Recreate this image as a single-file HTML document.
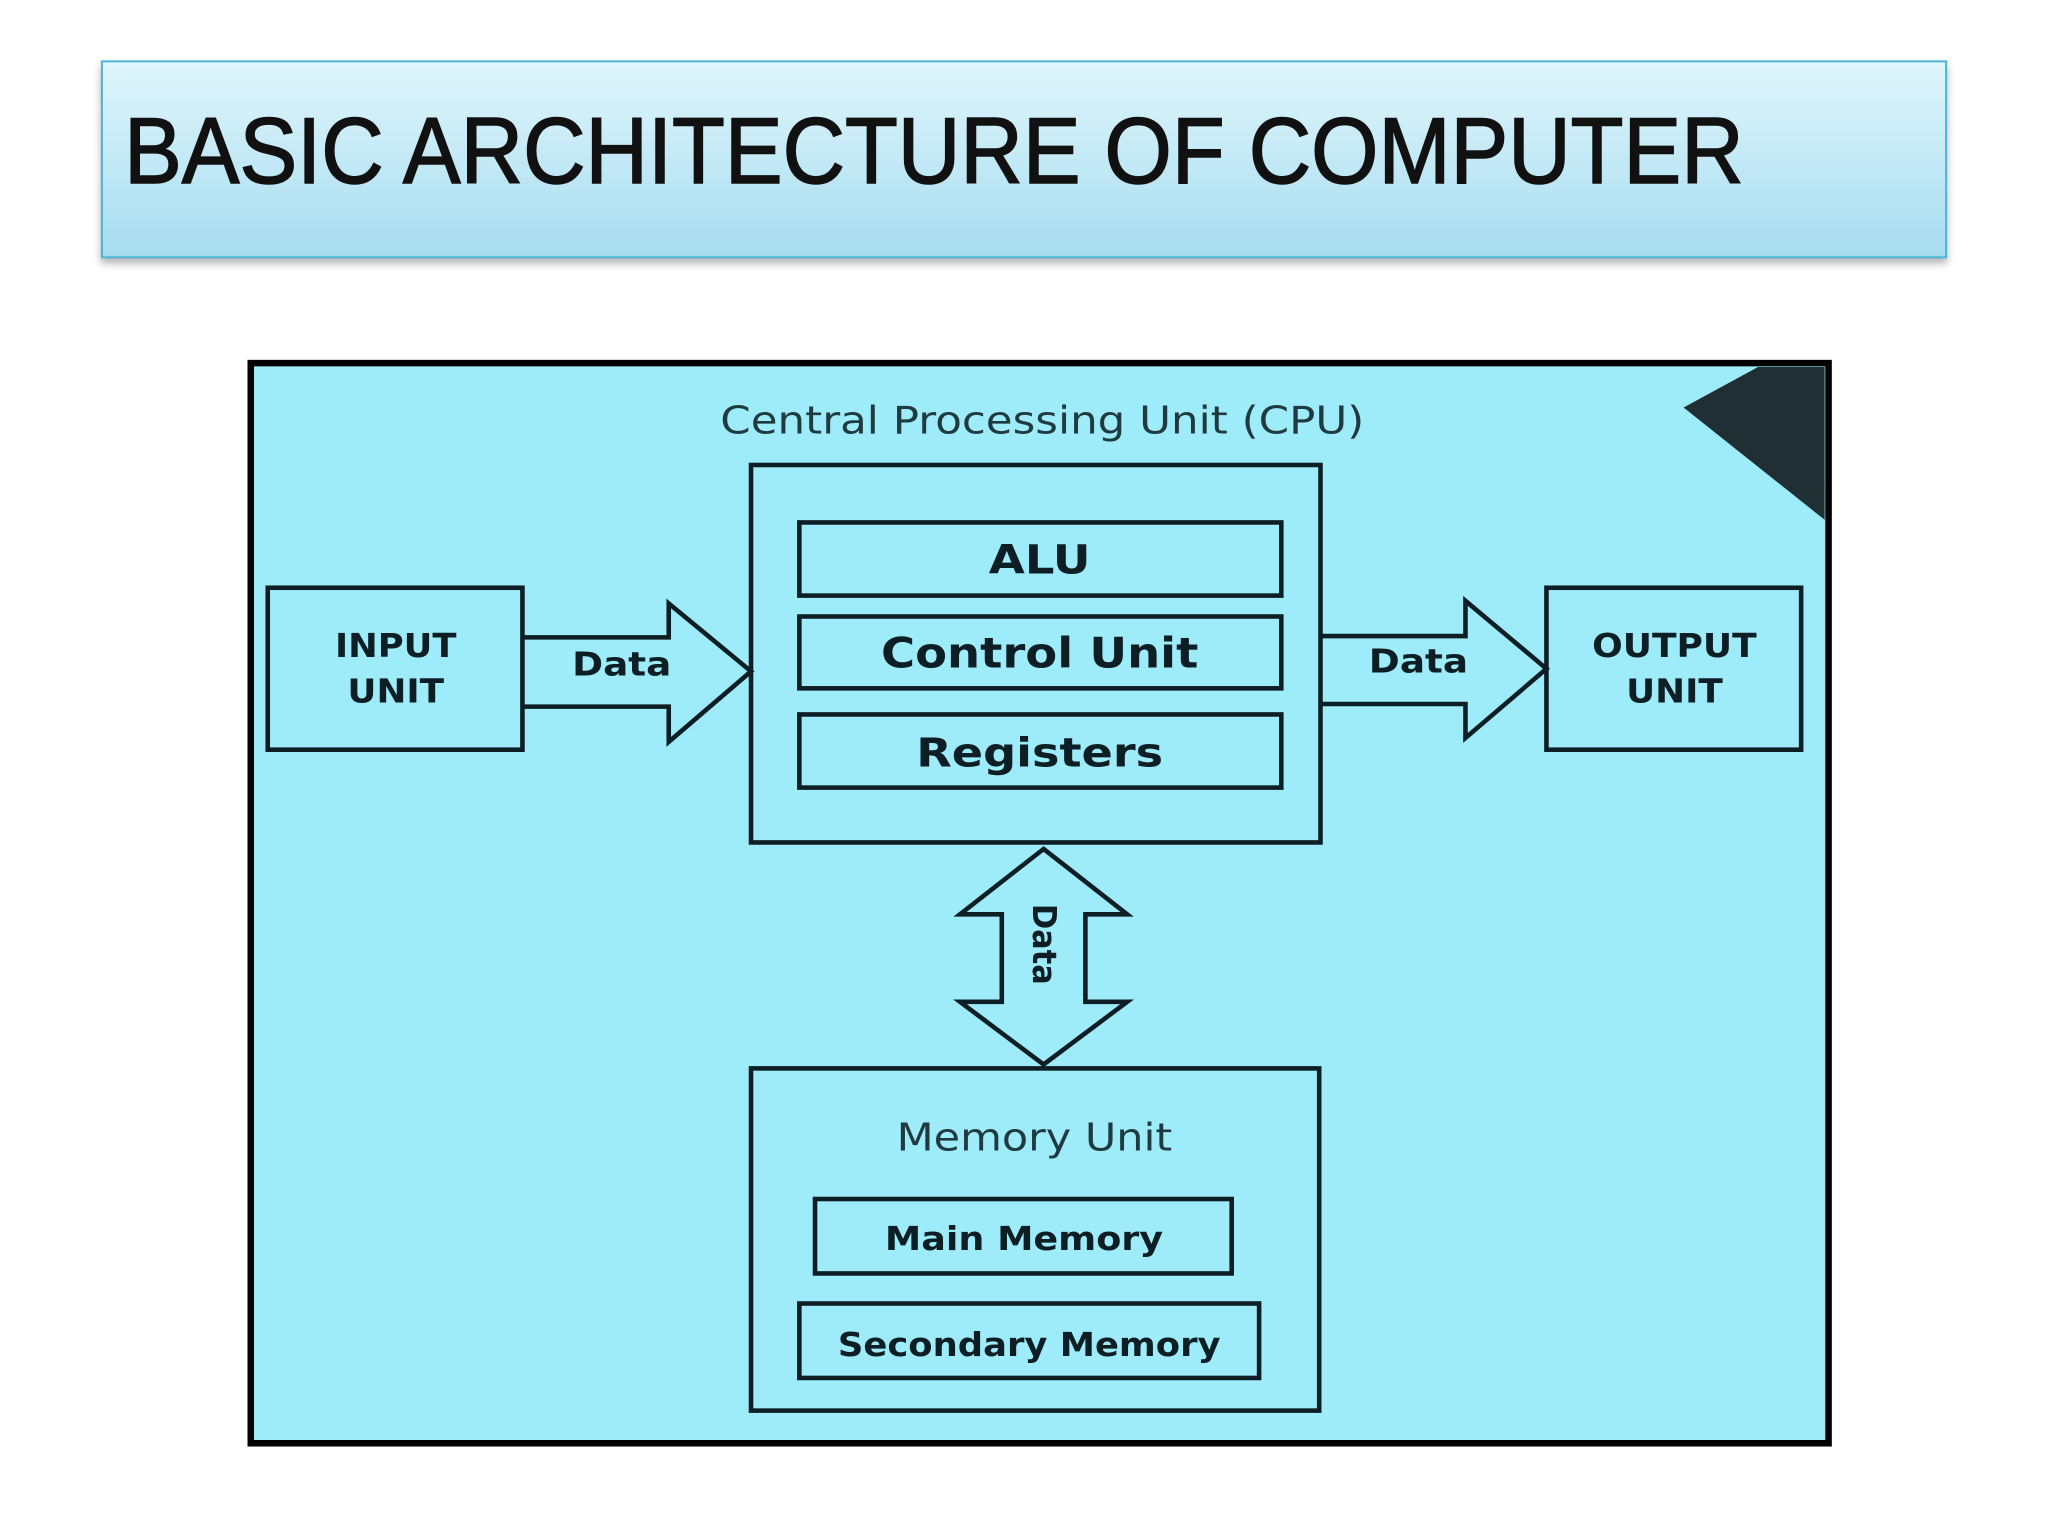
<!DOCTYPE html>
<html><head><meta charset="utf-8"><style>html,body{margin:0;padding:0;background:#fff}svg{display:block}</style></head>
<body>
<svg xmlns="http://www.w3.org/2000/svg" width="2048" height="1536" viewBox="0 0 1568 1176">
<defs>
<linearGradient id="tg" x1="0" y1="0" x2="0" y2="1">
<stop offset="0" stop-color="#e0f6fc"/><stop offset="1" stop-color="#a6dcef"/>
</linearGradient>
<filter id="sh" x="-5%" y="-20%" width="110%" height="150%"><feDropShadow dx="0" dy="4" stdDeviation="3" flood-color="#000" flood-opacity="0.3"/></filter>
</defs>
<rect width="1568" height="1176" fill="#fff"/>
<rect x="78" y="47" width="1412" height="150" fill="url(#tg)" stroke="#4ab3d3" stroke-width="1.5" filter="url(#sh)"/>
<text x="95" y="140" font-family="Liberation Sans, sans-serif" font-size="72" fill="#111" stroke="#111" stroke-width="1.2" textLength="1240" lengthAdjust="spacingAndGlyphs">BASIC ARCHITECTURE OF COMPUTER</text>

<rect x="192" y="278" width="1208" height="827" fill="#9eebf9" stroke="#000" stroke-width="5"/>
<polygon points="1289,312 1346,281 1397,281 1397,398" fill="#1f2f33"/>

<g font-family="DejaVu Sans, sans-serif" fill="#0d1f24" text-anchor="middle" lengthAdjust="spacingAndGlyphs">
<text x="798" y="332" font-size="29" fill="#1f3b40" textLength="493" lengthAdjust="spacingAndGlyphs">Central Processing Unit (CPU)</text>
<g fill="none" stroke="#0d1f24" stroke-width="3.5">
<rect x="575" y="356" width="436" height="289"/>
<rect x="612" y="400" width="369" height="56"/>
<rect x="612" y="472" width="369" height="55"/>
<rect x="612" y="547" width="369" height="56"/>
<rect x="205" y="450" width="195" height="124"/>
<rect x="1184" y="450" width="195" height="124"/>
<rect x="575" y="818" width="435" height="262"/>
<rect x="624" y="918" width="319" height="57"/>
<rect x="612" y="998" width="352" height="57"/>
<polyline points="400,488 512,488 512,462 575,514 512,568 512,541 400,541" />
<polyline points="1011,487 1122,487 1122,460 1184,512 1122,565 1122,539 1011,539"/>
<polygon points="799,650 863,700 831,700 831,767 863,767 799,815 735,767 767,767 767,700 735,700"/>
</g>
<g font-weight="bold">
<text x="796" y="439" font-size="31" textLength="78" lengthAdjust="spacingAndGlyphs">ALU</text>
<text x="796" y="511" font-size="32" textLength="243" lengthAdjust="spacingAndGlyphs">Control Unit</text>
<text x="796" y="587" font-size="31" textLength="189" lengthAdjust="spacingAndGlyphs">Registers</text>
<text x="303" y="503" font-size="25" textLength="93" lengthAdjust="spacingAndGlyphs">INPUT</text>
<text x="303" y="538" font-size="25" textLength="74" lengthAdjust="spacingAndGlyphs">UNIT</text>
<text x="1282" y="503" font-size="25" textLength="126" lengthAdjust="spacingAndGlyphs">OUTPUT</text>
<text x="1282" y="538" font-size="25" textLength="74" lengthAdjust="spacingAndGlyphs">UNIT</text>
<text x="476" y="517" font-size="25" textLength="76" lengthAdjust="spacingAndGlyphs">Data</text>
<text x="1086" y="515" font-size="25" textLength="76" lengthAdjust="spacingAndGlyphs">Data</text>
<text transform="translate(791,723) rotate(90)" font-size="25" textLength="62" lengthAdjust="spacingAndGlyphs">Data</text>
<text x="784" y="957" font-size="25" textLength="213" lengthAdjust="spacingAndGlyphs">Main Memory</text>
<text x="788" y="1038" font-size="25" textLength="293" lengthAdjust="spacingAndGlyphs">Secondary Memory</text>
</g>
<text x="792" y="881" font-size="29" fill="#1f3b40" textLength="211" lengthAdjust="spacingAndGlyphs">Memory Unit</text>
</g>
</svg>
</body></html>
